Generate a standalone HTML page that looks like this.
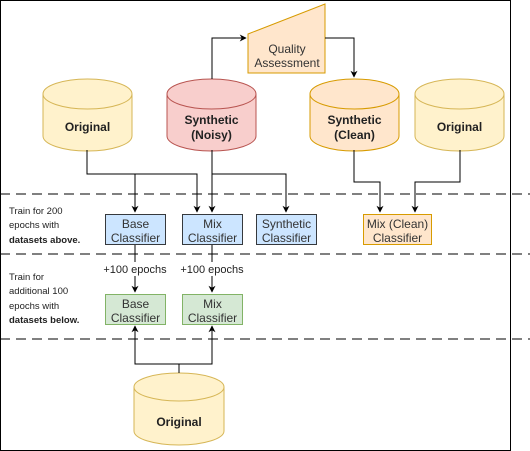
<!DOCTYPE html>
<html><head><style>
body{margin:0;background:#fff;}
svg{display:block;font-family:"Liberation Sans",Arial,sans-serif;}
</style></head><body>
<svg width="530" height="451" viewBox="0 0 530 451" xmlns="http://www.w3.org/2000/svg">
<defs>
<marker id="a" viewBox="0 0 10 10" refX="9" refY="5" markerWidth="7" markerHeight="7" orient="auto-start-reverse" markerUnits="userSpaceOnUse">
<path d="M0,0 L10,5 L0,10 L3,5 Z" fill="#000"/></marker>
</defs>
<rect x="0.5" y="0.5" width="510" height="450" fill="#fff" stroke="#000"/>
<g stroke="#000" stroke-dasharray="10,6" stroke-width="1">
<line x1="0" y1="194" x2="530" y2="194"/>
<line x1="0" y1="254" x2="530" y2="254"/>
<line x1="0" y1="339" x2="530" y2="339"/>
</g>
<polygon points="248,34 325,4 325,73 248,73" fill="#ffe6cc" stroke="#d79b00"/>
<text x="287" y="53" font-size="12" text-anchor="middle" fill="#333">Quality</text>
<text x="287" y="67" font-size="12" text-anchor="middle" fill="#333">Assessment</text>
<g font-size="12" font-weight="bold" text-anchor="middle" fill="#222">
<path d="M43,94 a44.5,15 0 0 1 89,0 v42 a44.5,15 0 0 1 -89,0 Z" fill="#fff2cc" stroke="#d6b656"/>
<path d="M43,94 a44.5,15 0 0 0 89,0" fill="none" stroke="#d6b656"/>
<text x="87.5" y="131">Original</text>
<path d="M167,94 a44.5,15 0 0 1 89,0 v42 a44.5,15 0 0 1 -89,0 Z" fill="#f8cecc" stroke="#b85450"/>
<path d="M167,94 a44.5,15 0 0 0 89,0" fill="none" stroke="#b85450"/>
<text x="211.5" y="124">Synthetic</text><text x="211.5" y="139">(Noisy)</text>
<path d="M310,94 a44.5,15 0 0 1 89,0 v42 a44.5,15 0 0 1 -89,0 Z" fill="#ffe6cc" stroke="#d79b00"/>
<path d="M310,94 a44.5,15 0 0 0 89,0" fill="none" stroke="#d79b00"/>
<text x="354.5" y="124">Synthetic</text><text x="354.5" y="139">(Clean)</text>
<path d="M415,94 a44.5,15 0 0 1 89,0 v42 a44.5,15 0 0 1 -89,0 Z" fill="#fff2cc" stroke="#d6b656"/>
<path d="M415,94 a44.5,15 0 0 0 89,0" fill="none" stroke="#d6b656"/>
<text x="459.5" y="131">Original</text>
<path d="M134,387 a45,14 0 0 1 90,0 v44 a45,14 0 0 1 -90,0 Z" fill="#fff2cc" stroke="#d6b656"/>
<path d="M134,387 a45,14 0 0 0 90,0" fill="none" stroke="#d6b656"/>
<text x="179" y="426">Original</text>
</g>
<g stroke="#000" fill="none" stroke-width="1">
<path d="M212,79 V38 H246" marker-end="url(#a)"/>
<path d="M325,38 H354 V77" marker-end="url(#a)"/>
<path d="M87,150 V174 H197 V212" marker-end="url(#a)"/>
<path d="M135,174 V212" marker-end="url(#a)"/>
<path d="M212,150 V212" marker-end="url(#a)"/>
<path d="M212,174 H286 V212" marker-end="url(#a)"/>
<path d="M354,150 V182 H380 V212" marker-end="url(#a)"/>
<path d="M460,150 V182 H415 V212" marker-end="url(#a)"/>
<path d="M135,244 V292" marker-end="url(#a)"/>
<path d="M212,244 V292" marker-end="url(#a)"/>
<path d="M179,373 V364 H135 V326" marker-end="url(#a)"/>
<path d="M179,364 H212 V326" marker-end="url(#a)"/>
</g>
<rect x="104" y="262" width="62" height="14" fill="#fff"/>
<rect x="181" y="262" width="62" height="14" fill="#fff"/>
<g font-size="11" text-anchor="middle" fill="#222">
<text x="135" y="273">+100 epochs</text>
<text x="212" y="273">+100 epochs</text>
</g>
<g font-size="12" text-anchor="middle" fill="#333">
<rect x="105.5" y="214.5" width="60" height="30" fill="#cce5ff" stroke="#36393d"/>
<text x="135.5" y="228">Base</text><text x="135.5" y="242">Classifier</text>
<rect x="182.5" y="214.5" width="60" height="30" fill="#cce5ff" stroke="#36393d"/>
<text x="212.5" y="228">Mix</text><text x="212.5" y="242">Classifier</text>
<rect x="256.5" y="214.5" width="60" height="30" fill="#cce5ff" stroke="#36393d"/>
<text x="286.5" y="228">Synthetic</text><text x="286.5" y="242">Classifier</text>
<rect x="363.5" y="214.5" width="68" height="30" fill="#ffe6cc" stroke="#d79b00"/>
<text x="397.5" y="228">Mix (Clean)</text><text x="397.5" y="242">Classifier</text>
<rect x="105.5" y="294.5" width="60" height="30" fill="#d5e8d4" stroke="#82b366"/>
<text x="135.5" y="308">Base</text><text x="135.5" y="322">Classifier</text>
<rect x="182.5" y="294.5" width="60" height="30" fill="#d5e8d4" stroke="#82b366"/>
<text x="212.5" y="308">Mix</text><text x="212.5" y="322">Classifier</text>
</g>
<g font-size="9.5" fill="#222">
<text x="9" y="214">Train for 200</text>
<text x="9" y="228">epochs with</text>
<text x="9" y="243" font-weight="bold">datasets above.</text>
<text x="9" y="280">Train for</text>
<text x="9" y="294">additional 100</text>
<text x="9" y="309">epochs with</text>
<text x="9" y="323" font-weight="bold">datasets below.</text>
</g>
</svg>
</body></html>
